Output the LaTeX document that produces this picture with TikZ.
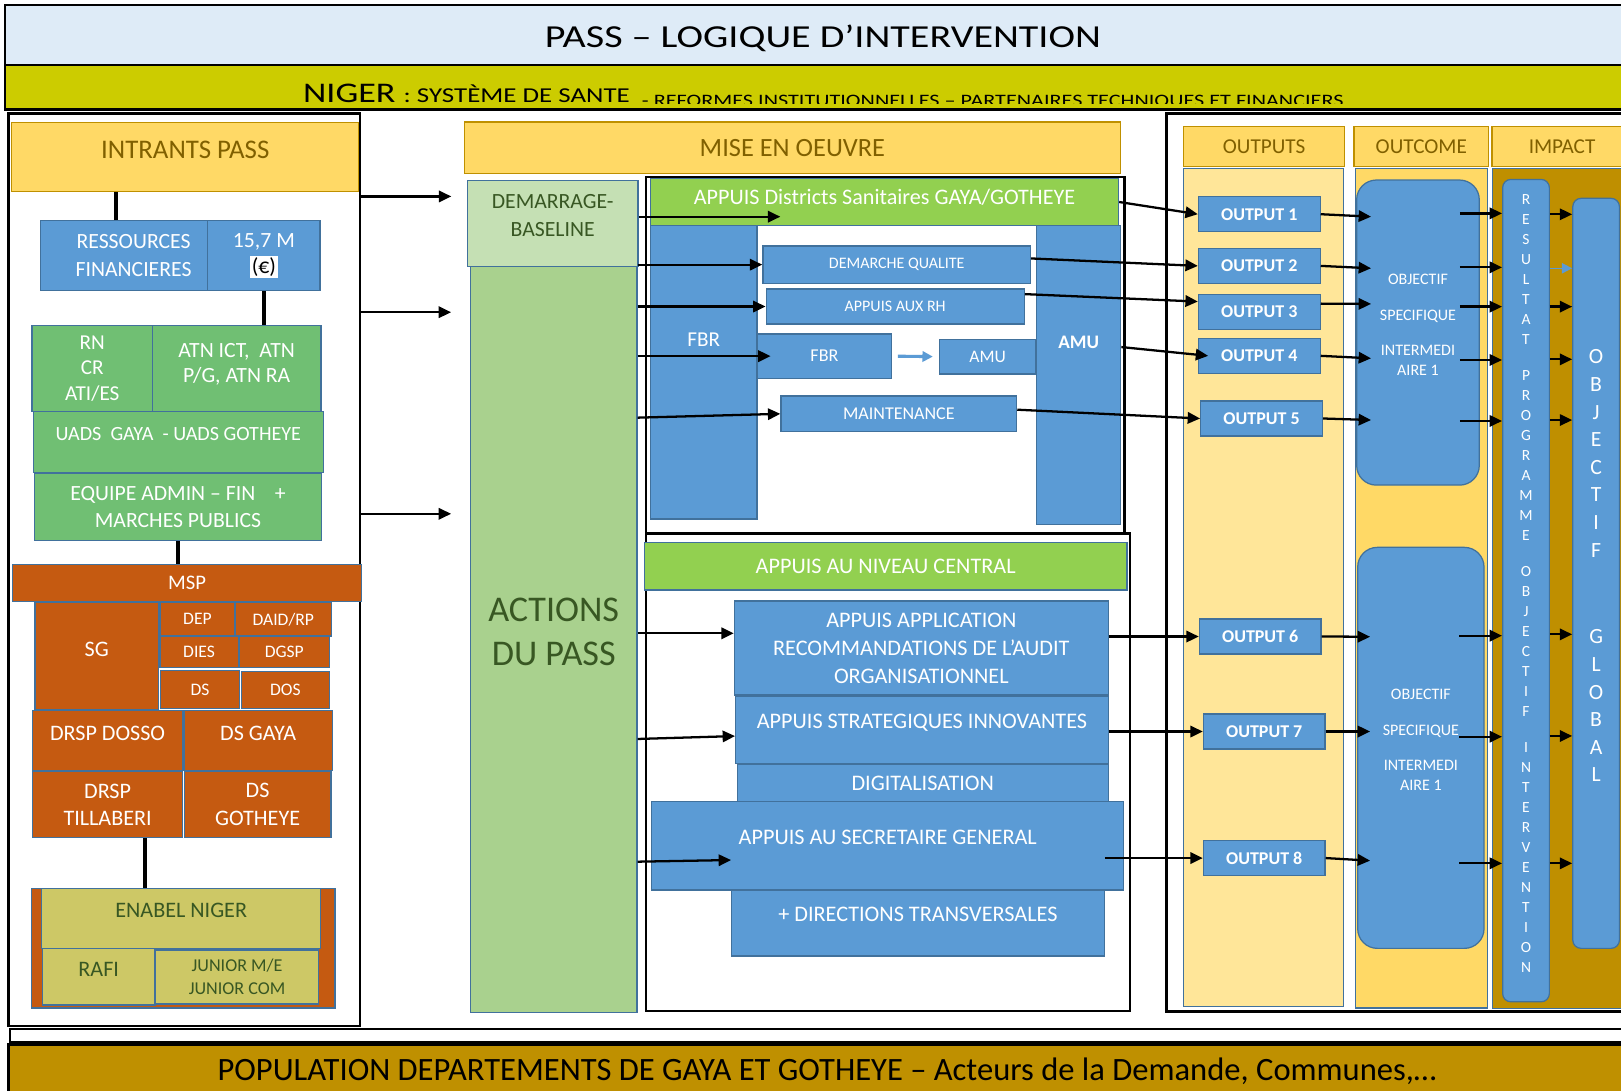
\documentclass[tikz,border=0pt]{standalone}
\usepackage{fontspec}
\setmainfont{Carlito}
\usepackage{graphicx}
\usetikzlibrary{arrows.meta}

\definecolor{titleblue}{HTML}{DEEBF7}
\definecolor{nigerfill}{HTML}{CCCC00}
\definecolor{goldlight}{HTML}{FFD966}
\definecolor{golddark}{HTML}{BF9000}
\definecolor{goldtext}{HTML}{806000}
\definecolor{outfill}{HTML}{FFE699}
\definecolor{impfill}{HTML}{BF8F00}
\definecolor{boxblue}{HTML}{5B9BD5}
\definecolor{bordblue}{HTML}{41719C}
\definecolor{boxgreen}{HTML}{70BF73}
\definecolor{lightgreen}{HTML}{C5E0B4}
\definecolor{midgreen}{HTML}{A9D18E}
\definecolor{headgreen}{HTML}{92D050}
\definecolor{boxorange}{HTML}{C55A11}
\definecolor{boxolive}{HTML}{CDC866}
\definecolor{darkgreen}{HTML}{385723}

\newcommand{\fsz}[2]{\fontsize{#1}{#2}\selectfont}
\newcommand{\hstretch}[2]{\scalebox{#1}[1]{#2}}
\setlength{\fboxsep}{1.7pt}

\tikzset{
  wh/.style 2 args={minimum width=#1pt, minimum height=#2pt},
  lift/.style={text depth=#1pt},
  bx/.style={draw=bordblue, line width=1.2pt, inner sep=0pt, align=center, text=white, font=\fsz{21.5}{26}},
  bluebx/.style={bx, fill=boxblue},
  greenbx/.style={bx, fill=boxgreen, font=\fsz{21}{24.1}},
  orangebx/.style={bx, fill=boxorange, font=\fsz{21.4}{26.4}},
  olivebx/.style={bx, fill=boxolive, text=darkgreen, font=\fsz{21.4}{26}},
  goldbx/.style={draw=golddark, line width=1.2pt, fill=goldlight, text=goldtext, inner sep=0pt, align=center, font=\fsz{20.5}{24}},
  outbx/.style={bluebx, wh={117.7}{33.9}, font=\fsz{17.4}{20}\bfseries},
  objbx/.style={bluebx, rounded corners=19pt, font=\fsz{15.5}{18.7}},
  sm/.style={font=\fsz{17}{20}},
  panel/.style={draw=black, line width=2.5pt, inner sep=0pt},
  link/.style={line width=3.5pt},
  arr/.style={line width=2.2pt, -{Triangle[length=12pt,width=11pt]}},
  bluearr/.style={draw=boxblue, line width=#1, -{Triangle[length=10pt,width=10pt]}},
}

\begin{document}
\begin{tikzpicture}[x=1pt,y=-1pt]
\useasboundingbox (0,0) rectangle (1568,1055);
\clip (0,0) rectangle (1568,1055);
\fill[white] (0,0) rectangle (1568,1055);

\node[draw, line width=2.5pt, fill=titleblue, inner sep=0pt, wh={1582}{58}, text height=23.6pt, text depth=0pt] (title) at (796,34) {\hstretch{1.25}{\fsz{31}{31}PASS – LOGIQUE D’INTERVENTION}};
\node[draw, line width=2.5pt, fill=nigerfill, inner sep=0pt, wh={1582}{43}] (niger) at (796,84.5) {};
\begin{scope}
  \clip (5,63) rectangle (1587,100);
  \node[anchor=base west, inner sep=0pt] (nigertxt) at (293,98.7) {\hstretch{1.27}{\fsz{27.5}{30}NIGER \fsz{20.5}{22}: SYSTÈME DE SANTE\ \ \raisebox{-4.5pt}{\fsz{16.9}{20}- REFORMES INSTITUTIONNELLES – PARTENAIRES TECHNIQUES ET FINANCIERS}}};
\end{scope}

\node[draw, line width=2pt, fill=white, inner sep=0pt, wh={1580}{12}] (strip) at (800,1001.7) {};
\node[draw, line width=2.5pt, fill=golddark, inner sep=0pt, wh={1584}{52}] (popul) at (800,1036.5) {\fsz{31.5}{31.5}POPULATION DEPARTEMENTS DE GAYA ET GOTHEYE – Acteurs de la Demande, Communes,…};

\node[panel, wh={339.8}{882.9}] (inpanel) at (178.3,551.1) {};
\node[panel, wh={463}{344.6}] (dsframe) at (856.5,343.6) {};
\node[panel, wh={468}{462.1}] (cenframe) at (859,747) {};
\node[panel, wh={451.5}{869}] (rframe) at (1354.3,544.1) {};

% intrants
\node[goldbx, wh={335.7}{66.7}, lift=14, font=\fsz{26}{30}] (intrants) at (179.2,152) {INTRANTS PASS};
\node[bluebx, wh={161.7}{67.5}, font=\fsz{21}{26.4}] (ress) at (120.2,247.3) {\hspace*{18pt}RESSOURCES\\\hspace*{18pt}FINANCIERES};
\node[bluebx, wh={108.6}{67.5}, font=\fsz{21}{25}] (money) at (255.3,247.3) {15,7 M\\\colorbox{white}{\textcolor{black}{(€)}}};
\node[greenbx, wh={116.3}{83.5}, font=\fsz{20.5}{24.5}] (rn) at (89.2,356.5) {RN\\CR\\ATI/ES};
\node[greenbx, wh={163.2}{83.5}, lift=11.6] (atn) at (228.9,356.5) {ATN ICT,\ \ ATN\\P/G, ATN RA};
\node[greenbx, wh={280.6}{59}, lift=15.2, font=\fsz{19.5}{24}] (uads) at (172.5,427.7) {UADS\ \ GAYA\ \ - UADS GOTHEYE};
\node[greenbx, wh={278}{65.1}, font=\fsz{21}{26.8}] (equipe) at (172.2,490.5) {EQUIPE ADMIN – FIN\ \ \ \ +\\MARCHES PUBLICS};
\node[orangebx, wh={338}{36}, font=\fsz{20}{24}] (msp) at (181,564) {MSP};
\node[orangebx, wh={119.2}{103.8}, lift=13.8] (sg) at (93.5,634.9) {SG};
\node[orangebx, sm, wh={72.5}{32.2}] (dep) at (191,599.1) {DEP};
\node[orangebx, sm, wh={93.5}{32.2}] (daid) at (274,599.1) {DAID/RP};
\node[orangebx, sm, wh={75.7}{30}] (dies) at (192.6,630.8) {DIES};
\node[orangebx, sm, wh={87}{30}] (dgsp) at (275,630.8) {DGSP};
\node[orangebx, sm, wh={76}{36.4}] (ds) at (193.5,667) {DS};
\node[orangebx, sm, wh={84.7}{35.5}] (dos) at (276.1,667.4) {DOS};
\node[orangebx, wh={145.1}{58.1}, lift=14.2] (drspd) at (104.1,716.4) {DRSP DOSSO};
\node[orangebx, wh={143.5}{57.6}, lift=13.8] (dsgaya) at (249.7,716.2) {DS GAYA};
\node[orangebx, wh={145.1}{63.6}] (drspt) at (104.1,778.2) {DRSP\\TILLABERI};
\node[orangebx, wh={141.9}{64}] (dsgot) at (249.2,778) {DS\\GOTHEYE};
\node[orangebx, wh={293.4}{115.7}] (enabelbg) at (177.3,917.2) {};
\node[olivebx, wh={269.9}{58}, lift=14.8] (enabel) at (175.3,888.3) {ENABEL NIGER};
\node[olivebx, wh={109}{54.7}, lift=14.2] (rafi) at (95.5,944.7) {RAFI};
\node[olivebx, wh={157.3}{52.1}, font=\fsz{17.5}{22.5}] (junior) at (229.3,945) {JUNIOR M/E\\JUNIOR COM};
\draw[link] ([xshift=-8pt]ress.north) -- ([xshift=-8pt]ress.north |- intrants.south);
\draw[link] (money.south) -- (money.south |- atn.north);
\draw[link] (equipe.south) -- (equipe.south |- msp.north);
\draw[link] ([xshift=36pt]drspt.south) -- ([xshift=36pt]drspt.south |- enabel.north);

% mise en oeuvre
\node[goldbx, wh={635}{50}, font=\fsz{25.5}{30}] (mise) at (766.5,143) {MISE EN OEUVRE};
\node[bx, fill=lightgreen, text=darkgreen, wh={164.9}{83.2}, lift=16, font=\fsz{21}{26.8}] (dem) at (534.6,216.4) {DEMARRAGE-\\BASELINE};
\node[bx, fill=midgreen, text=darkgreen, wh={161.3}{721.6}, lift=15.6, font=\fsz{35}{42}] (actions) at (535.6,618.8) {ACTIONS\\DU PASS};
\draw[arr, shorten >=15pt] (inpanel.east |- 0,190) -- (dem.west |- 0,190);
\draw[arr, shorten >=18pt] (inpanel.east |- 0,302) -- (actions.west |- 0,302);
\draw[arr, shorten >=18pt] (inpanel.east |- 0,497) -- (actions.west |- 0,497);

\node[bx, fill=headgreen, wh={452.8}{45.8}, lift=10.4, font=\fsz{21.4}{25}] (dshead) at (855.6,195.4) {APPUIS Districts Sanitaires GAYA/GOTHEYE};
\node[bluebx, wh={102.9}{283.7}, lift=62.6, font=\fsz{20.5}{24}] (fbrbar) at (680.7,360.2) {FBR};
\node[bluebx, wh={81.1}{288.7}, lift=62.4, font=\fsz{18.5}{22}\bfseries] (amubar) at (1043.5,362.7) {AMU};
\node[bluebx, wh={258.9}{36}, font=\fsz{15.5}{18}] (dq) at (867.4,256) {DEMARCHE QUALITE};
\node[bluebx, wh={249.6}{33.8}, font=\fsz{15.5}{18}] (rh) at (865.9,296.5) {APPUIS AUX RH};
\node[bluebx, wh={129}{43}, font=\fsz{17.5}{20}] (fbrsmall) at (797.5,344.5) {FBR};
\node[bluebx, sm, wh={92.8}{33.6}] (amusmall) at (955.3,345) {AMU};
\node[bluebx, wh={228}{34.6}, font=\fsz{17.4}{20}] (maint) at (869.4,400.3) {MAINTENANCE};
\draw[bluearr=3pt, shorten <=6pt, shorten >=6pt] (fbrsmall.east) -- (amusmall.west);
\draw[arr] (dem.east |- 0,209.6) -- (maint.west |- 0,209.6);
\draw[arr] (actions.east |- dq.west) -- (dq.west);
\draw[arr] (actions.east |- rh.west) -- (rh.west);
\draw[arr] (actions.east |- fbrsmall.west) -- ([xshift=13pt]fbrsmall.west);
\draw[arr] (actions.east |- 0,404) -- (maint.west);

\node[bx, fill=headgreen, wh={466.7}{45.8}] (cenhead) at (856.7,547.8) {APPUIS AU NIVEAU CENTRAL};
\node[bluebx, wh={361.7}{90.9}, font=\fsz{21.5}{27}] (app) at (891.2,626.9) {APPUIS APPLICATION\\RECOMMANDATIONS DE L’AUDIT\\ORGANISATIONNEL};
\node[bluebx, wh={360.4}{65.2}, lift=15.4] (strat) at (891.8,705.8) {APPUIS STRATEGIQUES INNOVANTES};
\node[bluebx, wh={358.8}{36.5}] (digi) at (892.6,757.3) {DIGITALISATION};
\node[bluebx, wh={456.6}{85.4}, lift=15.8] (sg2) at (858.7,818.2) {APPUIS AU SECRETAIRE GENERAL};
\node[bluebx, wh={360.3}{63.8}, lift=16.8] (dirtr) at (887.9,892.8) {+ DIRECTIONS TRANSVERSALES};
\draw[arr] (actions.east |- 0,612.6) -- (app.west |- 0,612.6);
\draw[arr] (actions.east |- 0,714.8) -- (strat.west |- 0,712);
\draw[arr] (actions.east |- 0,833.5) -- (dirtr.west |- 0,831.9);

% outputs, outcome, impact
\node[goldbx, wh={155.6}{38.7}] (hout) at (1222.8,141.9) {OUTPUTS};
\node[goldbx, wh={130.1}{38.7}] (hoc) at (1374.8,141.9) {OUTCOME};
\node[goldbx, wh={135.6}{38.7}] (himp) at (1511,141.9) {IMPACT};
\node[draw=bordblue, line width=1.2pt, fill=outfill, wh={154.8}{810.9}] (colout) at (1222,568.3) {};
\node[draw=bordblue, line width=1.2pt, fill=goldlight, wh={127.7}{812.2}] (coloc) at (1374.9,568.9) {};
\node[draw=bordblue, line width=1.2pt, fill=impfill, wh={156.1}{812.7}] (colimp) at (1522,569.2) {};

\node[outbx] (out1) at (1218.1,207.2) {OUTPUT 1};
\node[outbx] (out2) at (1218.1,257.2) {OUTPUT 2};
\node[outbx] (out3) at (1218.1,301.7) {OUTPUT 3};
\node[outbx] (out4) at (1218.1,344.2) {OUTPUT 4};
\node[outbx] (out5) at (1220.3,404.8) {OUTPUT 5};
\node[outbx] (out6) at (1219,615.7) {OUTPUT 6};
\node[outbx] (out7) at (1222.9,707.6) {OUTPUT 7};
\node[outbx] (out8) at (1222.9,830) {OUTPUT 8};

\node[objbx, wh={118.6}{295.1}, lift=15.6] (obj1) at (1371.6,321.7) {OBJECTIF\\[16pt]SPECIFIQUE\\[16pt]INTERMEDI\\AIRE 1};
\node[objbx, wh={122.2}{387.9}, lift=16.2] (obj2) at (1374.4,723.4) {OBJECTIF\\[16pt]SPECIFIQUE\\[16pt]INTERMEDI\\AIRE 1};
\node[bluebx, rounded corners=8pt, wh={45.2}{795.5}, lift=14, font=\fsz{15}{19.35}] (res) at (1476.1,571.3) {R\\E\\S\\U\\L\\T\\A\\T\\[15.5pt]P\\R\\O\\G\\R\\A\\M\\M\\E\\[15.5pt]O\\B\\J\\E\\C\\T\\I\\F\\[15.5pt]I\\N\\T\\E\\R\\V\\E\\N\\T\\I\\O\\N};
\node[bluebx, rounded corners=8pt, wh={45.1}{725.5}, lift=14.4, font=\fsz{21}{26.7}] (objgl) at (1543.9,554.6) {O\\B\\J\\E\\C\\T\\I\\F\\[57.3pt]G\\L\\O\\B\\A\\L};

\draw[arr] (dshead.east) -- (out1.west);
\draw[arr] ([yshift=6pt]dq.east) -- (out2.west);
\draw[arr] ([yshift=12pt]rh.east) -- ([yshift=10pt]out3.west);
\draw[arr] ([yshift=27pt]amubar.east) -- ([xshift=10pt]out4.west);
\draw[arr] ([yshift=4pt]maint.east) -- (out5.west);
\draw[arr] (app.east |- out6.west) -- (out6.west);
\draw[arr] (strat.east |- out7.west) -- (out7.west);
\draw[arr] (dirtr.east |- out8.west) -- (out8.west);

\draw[arr] (out1.east) -- ([xshift=14.5pt]obj1.west |- 0,209.6);
\draw[arr] (out2.east) -- ([xshift=14.5pt]obj1.west |- 0,259.5);
\draw[arr] ([yshift=8pt]out3.east) -- ([xshift=14.5pt]obj1.west |- 0,294);
\draw[arr] (out4.east) -- ([xshift=14.5pt]obj1.west |- 0,346.6);
\draw[arr] (out5.east) -- ([xshift=14.5pt]obj1.west |- 0,406.3);
\draw[arr] (out6.east) -- ([xshift=12.6pt]obj2.west |- 0,615.9);
\draw[arr] (out7.east) -- ([xshift=12.6pt]obj2.west |- out7.east);
\draw[arr] (out8.east) -- ([xshift=12.6pt]obj2.west |- 0,832.5);

\draw[arr] ([xshift=-19.3pt]obj1.east |- 0,206.4) -- (res.west |- 0,206.4);
\draw[arr] ([xshift=-19.3pt]obj1.east |- 0,258.6) -- (res.west |- 0,258.6);
\draw[arr] ([xshift=-19.3pt]obj1.east |- 0,296.6) -- (res.west |- 0,296.6);
\draw[arr] ([xshift=-19.3pt]obj1.east |- 0,348.2) -- (res.west |- 0,348.2);
\draw[arr] ([xshift=-19.3pt]obj1.east |- 0,407.2) -- (res.west |- 0,407.2);
\draw[arr] ([xshift=-24.8pt]obj2.east |- 0,614.9) -- (res.west |- 0,614.9);
\draw[arr] ([xshift=-24.8pt]obj2.east |- 0,712.6) -- (res.west |- 0,712.6);
\draw[arr] ([xshift=-24.8pt]obj2.east |- 0,835.1) -- (res.west |- 0,835.1);

\draw[arr] (res.east |- 0,207.3) -- (objgl.west |- 0,207.3);
\draw[bluearr=1.5pt] (res.east |- 0,259.5) -- (objgl.west |- 0,259.5);
\draw[arr] (res.east |- 0,296.6) -- (objgl.west |- 0,296.6);
\draw[arr] (res.east |- 0,347.6) -- (objgl.west |- 0,347.6);
\draw[arr] (res.east |- 0,406.3) -- (objgl.west |- 0,406.3);
\draw[arr] (res.east |- 0,613.6) -- (objgl.west |- 0,613.6);
\draw[arr] (res.east |- 0,711.9) -- (objgl.west |- 0,711.9);
\draw[arr] (res.east |- 0,835.1) -- (objgl.west |- 0,835.1);
\end{tikzpicture}
\end{document}
